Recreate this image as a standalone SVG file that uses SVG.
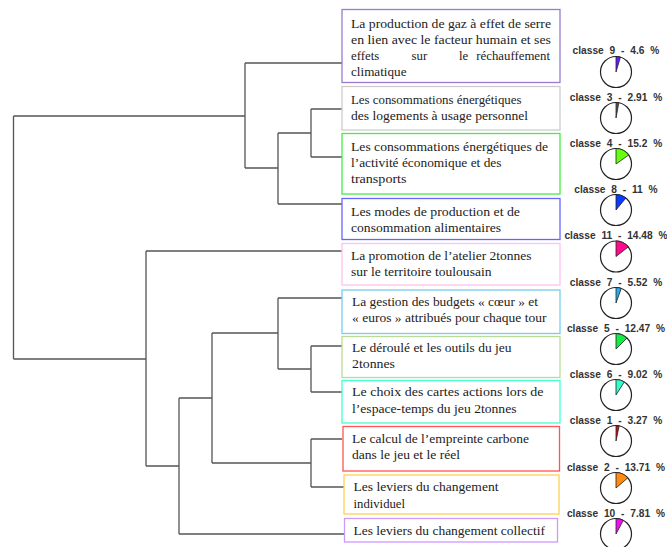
<svg xmlns="http://www.w3.org/2000/svg" width="667" height="547" viewBox="0 0 667 547">
<style>
.bg{fill:#ffffff}
.tree{fill:none;stroke:#555555;stroke-width:1.3}
.box{fill:#ffffff;stroke-width:1.3}
.t{font-family:"Liberation Serif","Times New Roman",serif;font-size:12.8px;fill:#222222}
.lab{font-family:"Liberation Sans",Arial,sans-serif;font-size:10.2px;font-weight:bold;fill:#333333;text-anchor:middle;word-spacing:3px}
.pie{fill:#ffffff;stroke:#222222;stroke-width:1.2}
.w{stroke:#222222;stroke-width:0.8}
</style>
<rect class="bg" x="0" y="0" width="667" height="547"/>
<g id="connectors">
<path class="tree" d="M245,63 H342 M311,109 H342 M311,157 H342 M278,204 H342 M311,109 V157 M278,133 H311 M278,133 V204 M245,168 H278 M245,63 V168 M13.5,116 H245 M13.5,116 V359 M13.5,359 H146 M146,251 V466 M146,251 H342 M146,466 H179 M179,398 V534 M179,534 H344 M179,398 H212 M212,333 V463 M212,333 H278 M278,298 V369 M278,298 H342 M278,369 H311 M311,346 V392 M311,346 H342 M311,392 H342 M212,463 H311 M311,439 V487 M311,439 H342 M311,487 H344"/>
</g>
<g id="node-c9">
<rect class="box" x="342" y="9.5" width="218" height="73" stroke="#9b7ad0"/>
<text class="t" x="351" y="28" textLength="200" lengthAdjust="spacingAndGlyphs">La production de gaz à effet de serre</text>
<text class="t" x="351" y="44" textLength="200" lengthAdjust="spacingAndGlyphs">en lien avec le facteur humain et ses</text>
<text class="t" x="351" y="60">effets</text>
<text class="t" x="411.5" y="60">sur</text>
<text class="t" x="459" y="60">le</text>
<text class="t" x="550" y="60" text-anchor="end">réchauffement</text>
<text class="t" x="351" y="76" textLength="55.5" lengthAdjust="spacingAndGlyphs">climatique</text>
</g>
<g id="node-c3">
<rect class="box" x="342" y="86.5" width="218" height="43.5" stroke="#cccccc"/>
<text class="t" x="351" y="104" textLength="170.5" lengthAdjust="spacingAndGlyphs">Les consommations énergétiques</text>
<text class="t" x="351" y="120" textLength="177" lengthAdjust="spacingAndGlyphs">des logements à usage personnel</text>
</g>
<g id="node-c4">
<rect class="box" x="342" y="133.5" width="218" height="60.5" stroke="#44ee44"/>
<text class="t" x="351" y="151" textLength="197" lengthAdjust="spacingAndGlyphs">Les consommations énergétiques de</text>
<text class="t" x="351" y="167" textLength="150.5" lengthAdjust="spacingAndGlyphs">l’activité économique et des</text>
<text class="t" x="351" y="183" textLength="55.5" lengthAdjust="spacingAndGlyphs">transports</text>
</g>
<g id="node-c8">
<rect class="box" x="342" y="198.5" width="218" height="41" stroke="#6666ff"/>
<text class="t" x="351" y="216" textLength="169" lengthAdjust="spacingAndGlyphs">Les modes de production et de</text>
<text class="t" x="351" y="232" textLength="150" lengthAdjust="spacingAndGlyphs">consommation alimentaires</text>
</g>
<g id="node-c11">
<rect class="box" x="342" y="243.5" width="218" height="41.5" stroke="#ffc0f0"/>
<text class="t" x="351" y="260" textLength="180.5" lengthAdjust="spacingAndGlyphs">La promotion de l’atelier 2tonnes</text>
<text class="t" x="351" y="276" textLength="140.5" lengthAdjust="spacingAndGlyphs">sur le territoire toulousain</text>
</g>
<g id="node-c7">
<rect class="box" x="342" y="290" width="218" height="43.5" stroke="#77ccee"/>
<text class="t" x="352" y="306" textLength="186" lengthAdjust="spacingAndGlyphs">La gestion des budgets « cœur » et</text>
<text class="t" x="352" y="322" textLength="194.5" lengthAdjust="spacingAndGlyphs">« euros » attribués pour chaque tour</text>
</g>
<g id="node-c5">
<rect class="box" x="342" y="336.5" width="218" height="41" stroke="#b8dc98"/>
<text class="t" x="352" y="352" textLength="159.5" lengthAdjust="spacingAndGlyphs">Le déroulé et les outils du jeu</text>
<text class="t" x="352" y="368" textLength="43" lengthAdjust="spacingAndGlyphs">2tonnes</text>
</g>
<g id="node-c6">
<rect class="box" x="342" y="380.5" width="218" height="42.5" stroke="#44ffcc"/>
<text class="t" x="352" y="396" textLength="191.5" lengthAdjust="spacingAndGlyphs">Le choix des cartes actions lors de</text>
<text class="t" x="352" y="413" textLength="164.5" lengthAdjust="spacingAndGlyphs">l’espace-temps du jeu 2tonnes</text>
</g>
<g id="node-c1">
<rect class="box" x="343" y="426.5" width="216.5" height="44.5" stroke="#ff5555"/>
<text class="t" x="352" y="443" textLength="177" lengthAdjust="spacingAndGlyphs">Le calcul de l’empreinte carbone</text>
<text class="t" x="352" y="459" textLength="108" lengthAdjust="spacingAndGlyphs">dans le jeu et le réel</text>
</g>
<g id="node-c2">
<rect class="box" x="344" y="475" width="215" height="39" stroke="#ffd050"/>
<text class="t" x="353.5" y="491" textLength="145" lengthAdjust="spacingAndGlyphs">Les leviers du changement</text>
<text class="t" x="353.5" y="508" textLength="51.5" lengthAdjust="spacingAndGlyphs">individuel</text>
</g>
<g id="node-c10">
<rect class="box" x="344.5" y="518.5" width="213" height="23.5" stroke="#cc99ff"/>
<text class="t" x="353.5" y="535" textLength="191.5" lengthAdjust="spacingAndGlyphs">Les leviers du changement collectif</text>
</g>
<g id="pie-c9">
<text class="lab" x="616" y="54.4">classe 9 - 4.6 %</text>
<circle class="pie" cx="616" cy="72" r="15.5"/>
<path class="w" d="M616,72 V56.5 A15.5,15.5 0 0 1 620.42,57.14 Z" fill="#6a1aff"/>
</g>
<g id="pie-c3">
<text class="lab" x="616" y="100.6">classe 3 - 2.91 %</text>
<circle class="pie" cx="616" cy="118" r="15.5"/>
<path class="w" d="M616,118 V102.5 A15.5,15.5 0 0 1 618.82,102.76 Z" fill="#555555"/>
</g>
<g id="pie-c4">
<text class="lab" x="616" y="146.8">classe 4 - 15.2 %</text>
<circle class="pie" cx="616" cy="164" r="15.5"/>
<path class="w" d="M616,164 V148.5 A15.5,15.5 0 0 1 628.65,155.05 Z" fill="#66ff11"/>
</g>
<g id="pie-c8">
<text class="lab" x="616" y="193.1">classe 8 - 11 %</text>
<circle class="pie" cx="616" cy="210" r="15.5"/>
<path class="w" d="M616,210 V194.5 A15.5,15.5 0 0 1 625.88,198.06 Z" fill="#0a3cff"/>
</g>
<g id="pie-c11">
<text class="lab" x="616" y="239.3">classe 11 - 14.48 %</text>
<circle class="pie" cx="616" cy="256.5" r="15.5"/>
<path class="w" d="M616,256.5 V241 A15.5,15.5 0 0 1 628.23,246.98 Z" fill="#ff0a8c"/>
</g>
<g id="pie-c7">
<text class="lab" x="616" y="285.6">classe 7 - 5.52 %</text>
<circle class="pie" cx="616" cy="303" r="15.5"/>
<path class="w" d="M616,303 V287.5 A15.5,15.5 0 0 1 621.27,288.42 Z" fill="#2aaaf0"/>
</g>
<g id="pie-c5">
<text class="lab" x="616" y="331.9">classe 5 - 12.47 %</text>
<circle class="pie" cx="616" cy="349" r="15.5"/>
<path class="w" d="M616,349 V333.5 A15.5,15.5 0 0 1 626.94,338.02 Z" fill="#11ee44"/>
</g>
<g id="pie-c6">
<text class="lab" x="616" y="378.1">classe 6 - 9.02 %</text>
<circle class="pie" cx="616" cy="395" r="15.5"/>
<path class="w" d="M616,395 V379.5 A15.5,15.5 0 0 1 624.32,381.92 Z" fill="#33ffcc"/>
</g>
<g id="pie-c1">
<text class="lab" x="616" y="424.4">classe 1 - 3.27 %</text>
<circle class="pie" cx="616" cy="441" r="15.5"/>
<path class="w" d="M616,441 V425.5 A15.5,15.5 0 0 1 619.16,425.83 Z" fill="#cc1111"/>
</g>
<g id="pie-c2">
<text class="lab" x="616" y="470.9">classe 2 - 13.71 %</text>
<circle class="pie" cx="616" cy="488" r="15.5"/>
<path class="w" d="M616,488 V472.5 A15.5,15.5 0 0 1 627.76,477.9 Z" fill="#ff8c11"/>
</g>
<g id="pie-c10">
<text class="lab" x="616" y="517.1">classe 10 - 7.81 %</text>
<circle class="pie" cx="616" cy="534" r="15.5"/>
<path class="w" d="M616,534 V518.5 A15.5,15.5 0 0 1 623.3,520.33 Z" fill="#ee11ee"/>
</g>
</svg>
